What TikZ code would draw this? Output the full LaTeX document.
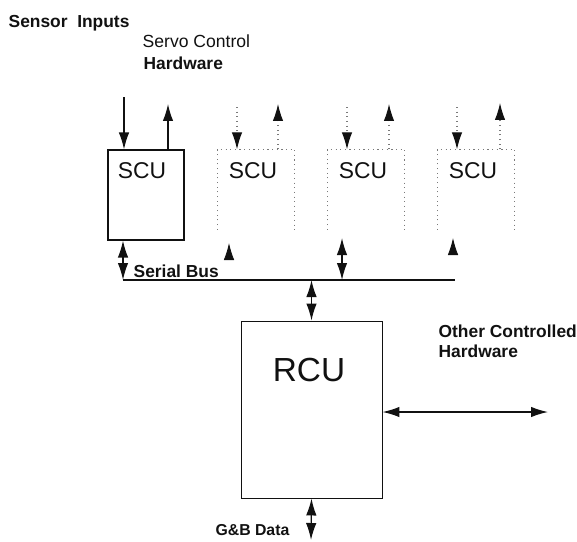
\documentclass[tikz,border=0pt]{standalone}
\usepackage{fontspec}
\setmainfont{Liberation Sans}
\usetikzlibrary{arrows.meta,positioning}
\definecolor{ink}{HTML}{111111}
\definecolor{faint}{HTML}{7A7A7A}

\begin{document}
\begin{tikzpicture}[x=0.02cm,y=-0.02cm,>={Latex[length=3.4mm,width=2.1mm,color=ink]},
    line width=0.75pt,draw=ink,
    scubox/.style={draw=ink,line width=0.65pt,minimum width=1.52cm,minimum height=1.8cm,inner sep=0pt},
    openbox/.style={minimum width=1.52cm,minimum height=1.58cm,inner sep=0pt},
    rcubox/.style={draw=ink,line width=0.55pt,minimum width=2.82cm,minimum height=3.54cm,inner sep=0pt},
    scutext/.style={font=\fontsize{13}{13}\selectfont,text=ink,inner sep=0pt},
    lbl/.style={font=\fontsize{9.9}{11}\selectfont\bfseries,text=ink,inner sep=0pt},
    faintline/.style={dotted,draw=faint,line width=0.65pt}]
  \useasboundingbox (0,0) rectangle (577,541);
  % labels on top
  \node[lbl,anchor=base west] (sens) at (8,28) {Sensor\ \ Inputs};
  \node[font=\fontsize{10}{11}\selectfont,text=ink,inner sep=0pt,anchor=base west] (servo) at (142,47) {Servo Control};
  \node[lbl,anchor=base west] (servohw) at (143,69) {Hardware};
  % first scu, solid
  \node[scubox] (s1) at (146,195) {};
  \node[scutext] (t1) at (142,171) {SCU};
  \coordinate (in1) at (124,97);
  \coordinate (out1) at (168,104);
  \draw[->] (in1) -- (in1 |- s1.north);
  \draw[->] (out1 |- s1.north) -- (out1);
  % other scus, faint and open at the bottom
  \foreach \i/\cx in {2/256,3/366,4/476}{
    \node[openbox] (s\i) at (\cx,189.5) {};
    \draw[faintline] (s\i.south west) -- (s\i.north west) -- (s\i.north east) -- (s\i.south east);
    \node[scutext] (t\i) at (\cx-3,171) {SCU};
    \coordinate (in\i) at (\cx-19,107);
    \draw[faintline,->] (in\i) -- (in\i |- s\i.north);
  }
  \coordinate (out2) at (278,104);
  \coordinate (out3) at (389,104);
  \coordinate (out4) at (500,103);
  \draw[faintline,->] (out2 |- s2.north) -- (out2);
  \draw[faintline,->] (out3 |- s3.north) -- (out3);
  \draw[faintline,->] (out4 |- s4.north) -- (out4);
  % serial bus
  \coordinate (busL) at (123,280);
  \coordinate (busR) at (455,280);
  \draw[line width=1pt] (busL) -- (busR);
  \node[lbl,anchor=base west] (bus) at (133,277) {Serial Bus};
  \draw[<->] (busL |- s1.south) -- (busL);
  \coordinate (b3) at (342,280);
  \coordinate (b3top) at (342,238);
  \draw[<->] (b3top) -- (b3);
  \coordinate (b2a) at (229,258);
  \coordinate (b2b) at (229,243);
  \draw[->,line width=0.5pt] (b2a) -- (b2b);
  \coordinate (b4a) at (453,254);
  \coordinate (b4b) at (453,238);
  \draw[->,line width=0.5pt] (b4a) -- (b4b);
  % rcu
  \node[rcubox] (r) at (311.5,409.5) {};
  \node[font=\fontsize{19}{19}\selectfont,text=ink,inner sep=0pt] (rt) at (309,370) {RCU};
  \draw[<->] (busL -| r.north) -- (r.north);
  \coordinate (oth) at (548,412);
  \draw[<->] (r.east |- oth) -- (oth);
  \node[lbl,anchor=base west,align=left] (othlbl) at (438,337) {Other Controlled};
  \node[lbl,anchor=base west] (othhw) at (438,357) {Hardware};
  \coordinate (gse) at (311,540);
  \draw[<->] (r.south) -- (gse);
  \node[lbl,font=\fontsize{9}{10}\selectfont\bfseries,anchor=base east] (gselbl) at (290,535) {G\&B Data};
\end{tikzpicture}
\end{document}
